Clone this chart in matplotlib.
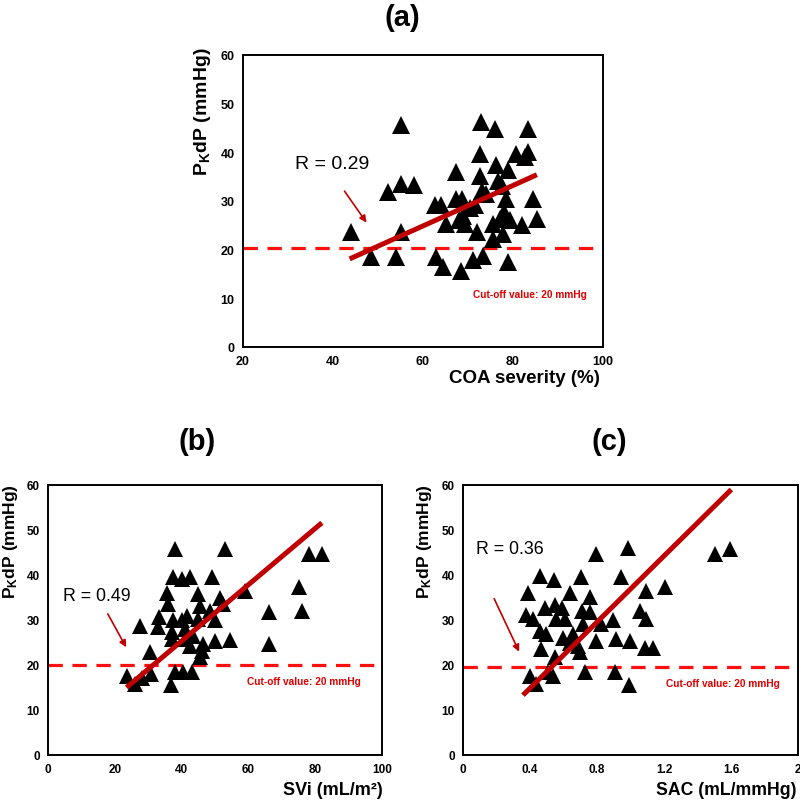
import matplotlib
matplotlib.use("Agg")
import matplotlib.pyplot as plt
import numpy as np

plt.rcParams['font.family'] = ['Liberation Sans', 'DejaVu Sans']
plt.rcParams['mathtext.fontset'] = 'custom'
plt.rcParams['mathtext.rm'] = 'Liberation Sans:bold'
plt.rcParams['mathtext.default'] = 'rm'

# ---------------- data ----------------
# (a) COA severity (%) vs PKdP (mmHg)
coa_x = [44.1, 48.5, 52.2, 53.9, 55.2, 55.0, 55.0, 58.1, 62.6, 64.1, 62.8, 64.4,
         65.2, 67.3, 67.3, 68.7, 68.9, 69.3, 68.4, 71.1, 71.5, 71.9, 72.6, 72.6,
         72.8, 73.0, 74.1, 73.3, 75.9, 75.6, 75.6, 76.3, 76.7, 77.0, 77.8, 78.1,
         78.5, 78.8, 78.8, 79.3, 80.7, 81.9, 82.6, 83.3, 83.3, 84.4, 85.3, 68.0,
         77.5, 70.5]
coa_y = [23.6, 18.5, 31.8, 18.5, 45.6, 33.5, 23.6, 33.2, 29.1, 29.1, 18.5, 16.4,
         25.3, 35.9, 30.4, 30.4, 27.0, 25.3, 15.7, 17.8, 29.1, 23.6, 35.2, 39.7,
         46.2, 32.1, 31.5, 18.8, 44.8, 25.3, 22.2, 37.3, 34.2, 26.3, 23.3, 27.7,
         30.4, 36.3, 17.4, 26.0, 39.7, 25.0, 39.0, 40.0, 44.8, 30.4, 26.3, 26.0,
         33.0, 28.5]
# (b) SVi (mL/m2) vs PKdP
svi_x = [23.8, 26.0, 28.0, 27.5, 30.5, 30.7, 33.3, 33.0, 35.5, 36.0, 36.7, 37.5,
         37.0, 37.0, 38.0, 37.3, 38.0, 40.0, 40.0, 40.5, 41.0, 42.5, 41.5, 42.5,
         43.0, 45.0, 45.5, 45.0, 43.5, 46.0, 45.5, 46.5, 48.5, 49.0, 50.0, 50.0,
         51.5, 52.5, 53.0, 54.5, 59.0, 66.3, 66.3, 75.0, 76.0, 78.0, 82.0, 41.0]
svi_y = [17.6, 15.7, 17.2, 28.7, 22.8, 18.0, 30.7, 28.5, 36.0, 33.6, 15.6, 30.0,
         27.3, 25.8, 45.8, 39.5, 18.4, 39.1, 29.9, 18.4, 25.8, 39.5, 31.0, 24.3,
         18.4, 35.8, 33.2, 30.2, 26.5, 23.2, 21.7, 24.7, 32.1, 39.5, 29.9, 25.4,
         34.8, 33.6, 45.8, 25.6, 36.5, 31.7, 24.7, 37.3, 32.1, 44.7, 44.7, 28.0]
# (c) SAC (mL/mmHg) vs PKdP
sac_x = [0.374, 0.39, 0.40, 0.418, 0.438, 0.458, 0.458, 0.468, 0.488, 0.498,
         0.507, 0.541, 0.547, 0.547, 0.537, 0.557, 0.593, 0.607, 0.597, 0.637,
         0.657, 0.687, 0.707, 0.713, 0.717, 0.697, 0.726, 0.756, 0.756, 0.796,
         0.796, 0.826, 0.896, 0.905, 0.915, 0.945, 0.985, 0.991, 0.995, 1.055,
         1.094, 1.094, 1.085, 1.134, 1.204, 1.502, 1.592, 0.637]
sac_y = [31.1, 36.0, 17.6, 30.2, 15.8, 39.7, 27.6, 23.6, 32.7, 26.9,
         18.4, 39.0, 33.3, 21.7, 17.6, 30.2, 32.7, 30.2, 26.1, 36.1,
         26.9, 24.3, 39.5, 32.1, 29.1, 22.8, 18.4, 35.1, 31.7, 44.7,
         25.4, 29.1, 29.9, 18.4, 25.8, 39.5, 46.1, 15.6, 25.4, 32.1,
         36.5, 30.2, 23.7, 23.7, 37.3, 44.7, 45.8, 25.0]

# regression line end points as drawn
fit_a_x = [43.7, 85.3]; fit_a_y = [18.1, 35.4]
fit_b_x = [23.5, 82.0]; fit_b_y = [15.0, 51.6]
fit_c_x = [0.358, 1.602]; fit_c_y = [13.3, 59.0]

r_labels = ["R = 0.29", "R = 0.49", "R = 0.36"]
cutoffs = [20.3, 20.0, 19.5]
cutoff_text = "Cut-off value: 20 mmHg"
titles = ["(a)", "(b)", "(c)"]
xlabels = ["COA severity (%)", "SVi (mL/m\u00b2)", "SAC (mL/mmHg)"]
ylabel = "P$_{K}$dP (mmHg)"
xlims = [(20, 100), (0, 100), (0, 2)]
xticks = [[20, 40, 60, 80, 100], [0, 20, 40, 60, 80, 100], [0, 0.4, 0.8, 1.2, 1.6, 2]]
xticklabels = [["20", "40", "60", "80", "100"], ["0", "20", "40", "60", "80", "100"],
               ["0", "0.4", "0.8", "1.2", "1.6", "2"]]
yticks = [0, 10, 20, 30, 40, 50, 60]

# ---------------- figure ----------------
W, H = 800, 804
fig = plt.figure(figsize=(8, 8.04), dpi=100)

def fx(px): return px / W
def fy(py): return 1 - py / H

ax_a = fig.add_axes([fx(243), fy(348), fx(603) - fx(243), fy(56) - fy(348)])
ax_b = fig.add_axes([fx(48), fy(756), fx(382) - fx(48), fy(486) - fy(756)])
ax_c = fig.add_axes([fx(463), fy(756), fx(798) - fx(463), fy(486) - fy(756)])
axes = [ax_a, ax_b, ax_c]

data = [(coa_x, coa_y, fit_a_x, fit_a_y), (svi_x, svi_y, fit_b_x, fit_b_y),
        (sac_x, sac_y, fit_c_x, fit_c_y)]
msizes = [13, 11, 11]
tick_fs = [9, 8.5, 8.5]

for i, ax in enumerate(axes):
    x, y, fx_, fy_ = data[i]
    ax.set_xlim(*xlims[i]); ax.set_ylim(0, 60)
    ax.set_xticks(xticks[i]); ax.set_xticklabels(xticklabels[i])
    ax.set_yticks(yticks)
    ax.tick_params(length=0, labelsize=tick_fs[i], pad=6)
    for lab in ax.get_xticklabels() + ax.get_yticklabels():
        lab.set_fontweight('bold')
    for s in ax.spines.values():
        s.set_linewidth(1.4); s.set_color('black')
    ax.axhline(cutoffs[i], color='#FF1010', lw=2.3, dashes=(4.5, 3), zorder=1)
    ax.plot(x, y, linestyle='none', marker='^', ms=msizes[i], color='black',
            markeredgewidth=0, zorder=2)
    ax.plot(fx_, fy_, color='#C00000', lw=3.6, solid_capstyle='butt', zorder=3)

# R labels and arrows
ax_a.text(31.5, 37.8, r_labels[0], fontsize=14, va='center', ha='left')
ax_a.annotate("", xy=(47.8, 25.1), xytext=(42.2, 32.5),
              arrowprops=dict(arrowstyle='-|>', color='#C00000', lw=1.2, mutation_scale=10))
ax_b.text(4.5, 35.4, r_labels[1], fontsize=12.8, va='center', ha='left')
ax_b.annotate("", xy=(23.8, 23.4), xytext=(17.5, 31.9),
              arrowprops=dict(arrowstyle='-|>', color='#C00000', lw=1.2, mutation_scale=10))
ax_c.text(0.076, 45.8, r_labels[2], fontsize=12.8, va='center', ha='left')
ax_c.annotate("", xy=(0.342, 22.4), xytext=(0.179, 35.3),
              arrowprops=dict(arrowstyle='-|>', color='#C00000', lw=1.2, mutation_scale=10))

# cut-off texts
ax_a.text(83.7, 10.9, cutoff_text, color='#E00000', fontsize=7.3, fontweight='bold',
          ha='center', va='center')
ax_b.text(76.6, 16.4, cutoff_text, color='#E00000', fontsize=7.3, fontweight='bold',
          ha='center', va='center')
ax_c.text(1.552, 16.1, cutoff_text, color='#E00000', fontsize=7.3, fontweight='bold',
          ha='center', va='center')

# titles
fig.text(fx(402), fy(18), titles[0], fontsize=21, fontweight='bold', ha='center', va='center')
fig.text(fx(197), fy(442), titles[1], fontsize=21, fontweight='bold', ha='center', va='center')
fig.text(fx(609), fy(442), titles[2], fontsize=21, fontweight='bold', ha='center', va='center')

# y labels
fig.text(fx(203), fy(47), ylabel, fontsize=14, fontweight='bold', rotation=90,
         ha='center', va='top')
fig.text(fx(11), fy(484), ylabel, fontsize=12.5, fontweight='bold', rotation=90,
         ha='center', va='top')
fig.text(fx(425), fy(484), ylabel, fontsize=12.5, fontweight='bold', rotation=90,
         ha='center', va='top')

# x labels
fig.text(fx(600), fy(379), xlabels[0], fontsize=13.5, fontweight='bold', ha='right', va='center')
fig.text(fx(383), fy(791), xlabels[1], fontsize=13, fontweight='bold', ha='right', va='center')
fig.text(fx(797), fy(791), xlabels[2], fontsize=12.7, fontweight='bold', ha='right', va='center')

fig.savefig("out.png", dpi=100)
